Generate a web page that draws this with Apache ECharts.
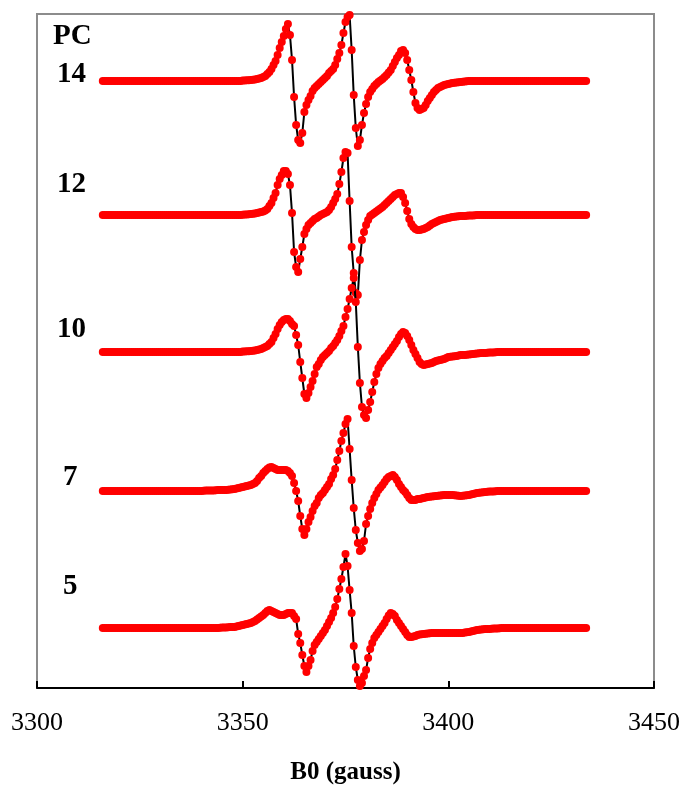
<!DOCTYPE html>
<html><head><meta charset="utf-8">
<script src="https://cdn.jsdelivr.net/npm/echarts/dist/echarts.min.js"></script>
<style>html,body{margin:0;padding:0;background:#fff}#c{width:684px;height:785px}</style>
</head><body><div id="c"></div>
<script>
// Magnetic field B0 (gauss) sampling positions (0.5 G sweep steps)
const fieldB = [
3316,3316.5,3317,3317.5,3318,3318.5,3319,3319.5,3320,3320.5,3321,3321.5,3322,3322.5,3323,3323.5,3324,3324.5,3325,3325.5,
3326,3326.5,3327,3327.5,3328,3328.5,3329,3329.5,3330,3330.5,3331,3331.5,3332,3332.5,3333,3333.5,3334,3334.5,3335,3335.5,
3336,3336.5,3337,3337.5,3338,3338.5,3339,3339.5,3340,3340.5,3341,3341.5,3342,3342.5,3343,3343.5,3344,3344.5,3345,3345.5,
3346,3346.5,3347,3347.5,3348,3348.5,3349,3349.5,3350,3350.5,3351,3351.5,3352,3352.5,3353,3353.5,3354,3354.5,3355,3355.5,
3356,3356.5,3357,3357.5,3358,3358.5,3359,3359.5,3360,3360.5,3361,3361.5,3362,3362.5,3363,3363.5,3364,3364.5,3365,3365.5,
3366,3366.5,3367,3367.5,3368,3368.5,3369,3369.5,3370,3370.5,3371,3371.5,3372,3372.5,3373,3373.5,3374,3374.5,3375,3375.5,
3376,3376.5,3377,3377.5,3378,3378.5,3379,3379.5,3380,3380.5,3381,3381.5,3382,3382.5,3383,3383.5,3384,3384.5,3385,3385.5,
3386,3386.5,3387,3387.5,3388,3388.5,3389,3389.5,3390,3390.5,3391,3391.5,3392,3392.5,3393,3393.5,3394,3394.5,3395,3395.5,
3396,3396.5,3397,3397.5,3398,3398.5,3399,3399.5,3400,3400.5,3401,3401.5,3402,3402.5,3403,3403.5,3404,3404.5,3405,3405.5,
3406,3406.5,3407,3407.5,3408,3408.5,3409,3409.5,3410,3410.5,3411,3411.5,3412,3412.5,3413,3413.5,3414,3414.5,3415,3415.5,
3416,3416.5,3417,3417.5,3418,3418.5,3419,3419.5,3420,3420.5,3421,3421.5,3422,3422.5,3423,3423.5,3424,3424.5,3425,3425.5,
3426,3426.5,3427,3427.5,3428,3428.5,3429,3429.5,3430,3430.5,3431,3431.5,3432,3432.5,3433,3433.5
];
// Trace labels (top to bottom) and vertical offsets of their baselines (a.u.)
const traceLabels = ['14','12','10','7','5'];
const traceOffsets = [607, 473, 336, 197, 60];
const xTicks = [3300, 3350, 3400, 3450];

// EPR signal (a.u., relative to baseline)
const pc14 = [
0,0,0,0,0,0,0,0,0,0, 0,0,0,0,0,0,0,0,0,0, 0,0,0,0,0,0,0,0,0,0, 0,0,0,0,0,0,0,0,0,0, 0,0,0,0,0,0,0,0,0,0, 0,0,0,0,0,0,0,0,0,0, 0,0,0,0,0,0,0,0,
0.5,0.6,0.7,0.8,1,1.2,1.5,2,2.5,3,4,5,7,9,12,16,
20,26,33,39,45,52,57,46, 21,-16,-44,-59,-62,-52,-31,-24, -19,-15,-10,-7,-5,-3,-1,1, 3,5,8,10,12,16,22,28,
36,48,59,64,66,31,-14,-47, -65,-59,-44,-32,-23,-16,-11,
-8,-5,-3,-1,0.5,2,4,6,8.5,
11,15,19,23,26,30,31,28,21,11,1,-11,-22,-27,-29,
-28,-27,-24,-20,-17,-14,-11,-9,-7,-6,-5,-4,-3.5,-3,-2.5,-2,-1.7,-1.5,-1.2,-1,-0.7,-0.5,-0.3,
0,0,0,0,0,0,0,0,0,0, 0,0,0,0,0,0,0,0,0,0, 0,0,0,0,0,0,0,0,0,0, 0,0,0,0,0,0,0,0,0,0, 0,0,0,0,0,0,0,0,0,0, 0,0,0,0,0,0,0,0
];
const pc12 = [
0,0,0,0,0,0,0,0,0,0, 0,0,0,0,0,0,0,0,0,0, 0,0,0,0,0,0,0,0,0,0, 0,0,0,0,0,0,0,0,0,0, 0,0,0,0,0,0,0,0,0,0, 0,0,0,0,0,0,0,0,0,0, 0,0,0,0,0,0,0,0,
0.3,0.4,0.5,0.7,1,1.2,1.5,2,2.5,3,3.5,4.5,6,9,12,17,
22,30,36,40,44,44,41,30, 2,-37,-52,-57,-44,-32,-19,-14, -10,-8,-6,-4,-3,-1.5,0,1, 2,3,5,8,12,16,21,31,
43,57,63,62,14,-32,-58,-78, -80,-45,-25,-17,-10,-5,-1,
0.5,2,3.5,5,6.5,8,10,12,14,
16,18,20,21,22,22,18,12,4,-4,-9,-12,-14,-15,-15,
-14.5,-14,-13,-12,-10.5,-9,-8,-7,-6,-5,-4.5,-4,-3.5,-3,-2.5,-2,-1.7,-1.5,-1.2,-1,-1,-1,-0.7,-0.5,-0.5,-0.5,-0.2,
0,0,0,0,0,0,0,0,0,0, 0,0,0,0,0,0,0,0,0,0, 0,0,0,0,0,0,0,0,0,0, 0,0,0,0,0,0,0,0,0,0, 0,0,0,0,0,0,0,0,0,0, 0,0,0,0
];
const pc10 = [
0,0,0,0,0,0,0,0,0,0, 0,0,0,0,0,0,0,0,0,0, 0,0,0,0,0,0,0,0,0,0, 0,0,0,0,0,0,0,0,0,0, 0,0,0,0,0,0,0,0,0,0, 0,0,0,0,0,0,0,0,0,0, 0,0,0,0,0,0,0,0,
0.5,0.6,0.7,0.8,1,1.2,1.5,2,2.5,3,4,5,6,8,10,14,
18,23,27,30,32,33,33,31, 28,26,17,7,-10,-26,-42,-46, -41,-35,-29,-22,-15,-12,-8,-5, -3,-1,1,4,6,9,12,16,
21,26,35,43,53,64,74,50, 5,-31,-55,-63,-66,-58,-50,
-40,-30,-22,-16,-12,-9,-6,-4,-1,
2,5,8,11,15,18,20,19,16,12,7,2,-2,-6,-10,
-12,-13,-12.5,-12,-11.5,-11,-10,-9,-8.5,-8,-7.5,-7,-6,-5,-4.8,-4.5,-4.2,-4,-3.5,-3,-3,-3,-2.8,-2.5,-2.2,-2,-1.8,-1.5,-1.2,-1,-1,-1,-0.8,-0.5,-0.5,-0.5,-0.3,0,
0,0,0,0,0,0,0,0,0,0, 0,0,0,0,0,0,0,0,0,0, 0,0,0,0,0,0,0,0,0,0, 0,0,0,0,0,0,0,0,0,0, 0,0,0
];
const pc7 = [
0,0,0,0,0,0,0,0,0,0, 0,0,0,0,0,0,0,0,0,0, 0,0,0,0,0,0,0,0,0,0, 0,0,0,0,0,0,0,0,0,0, 0,0,0,0,0,0,0,0,0,
0.3,0.5,0.5,0.5,0.5,0.5,0.7,1,1,1,1,1,1.2,1.5,1.7,2,2.5,3,3.5,4,4.5,5,5.5,6,7,8,10,13,15,18,20,22,23.5,24,23,
22,21,21,21,21,21,20,18, 15,8,0,-10,-25,-38,-44,-38, -31,-26,-20,-15,-12,-7,-4,-2, 1,4,7,12,16,22,31,40,
50,58,67,72,42,11,-17,-39, -52,-60,-58,-50,-33,-25,-18,
-12,-7,-3,1,3.5,6,9,12,14,
15,16,14,11,7,4,1,-1,-4,-7,-9,-9,-9,-8,-8,
-7.5,-7,-6.5,-6,-5.8,-5.5,-5.2,-5,-4.8,-4.5,-4.2,-4,-4,-4,-4,-4,-4.2,-4.5,-4.8,-5,-4.8,-4.5,-4.2,-4,-3.5,-3,-2.5,-2,-1.7,-1.5,-1.2,-1,-0.7,-0.5,-0.5,-0.5,-0.3,
0,0,0,0,0,0,0,0,0,0, 0,0,0,0,0,0,0,0,0,0, 0,0,0,0,0,0,0,0,0,0, 0,0,0,0,0,0,0,0,0,0, 0,0,0,0
];
const pc5 = [
0,0,0,0,0,0,0,0,0,0, 0,0,0,0,0,0,0,0,0,0, 0,0,0,0,0,0,0,0,0,0, 0,0,0,0,0,0,0,0,0,0, 0,0,0,0,0,0,0,0,0,0, 0,0,0,0,0,0,0,
0.3,0.5,0.5,0.5,0.7,1,1,1,1.5,2,2.5,3,3.5,4,4.5,5,6,7,8.5,10,11.5,13,15,17,18,17,16,
15,14,13,13,13,14,15,15, 15,12,9,-6,-15,-27,-38,-44, -38,-32,-23,-17,-14,-11,-8,-5, -2,2,6,10,15,21,29,39,
49,61,74,62,38,15,-18,-39, -52,-58,-55,-48,-42,-30,-21,
-15,-10,-7,-4,-1,2,5,9,12.5,
15,14,12,8,5,2,-1,-4,-7,-9,-9,-8.5,-8,-7,-6.5,
-6.2,-6,-5.8,-5.5,-5.2,-5,-5,-5,-5,-5,-5,-5,-5,-5,-5,-5,-5,-5,-5,-5,-5,
-4.5,-4.2,-4,-3.5,-3,-2.5,-2,-1.7,-1.5,-1.2,-1,-1,-1,-0.7,-0.5,-0.5,-0.5,-0.2,
0,0,0,0,0,0,0,0,0,0, 0,0,0,0,0,0,0,0,0,0, 0,0,0,0,0,0,0,0,0,0, 0,0,0,0,0,0,0,0,0,0, 0,0
];
const traces = [pc14, pc12, pc10, pc7, pc5];
traces.forEach((t, k) => { if (t.length !== fieldB.length) console.error('length mismatch trace ' + traceLabels[k] + ': ' + t.length + ' vs ' + fieldB.length); });

const chart = echarts.init(document.getElementById('c'), null, {renderer: 'canvas'});
const serif = '"Liberation Serif", "Times New Roman", serif';

const series = traces.map((t, k) => ({
  type: 'line',
  name: 'PC ' + traceLabels[k],
  data: fieldB.map((b, i) => [b, traceOffsets[k] + t[i]]),
  symbol: 'circle',
  symbolSize: 8,
  showSymbol: true,
  showAllSymbol: true,
  clip: false,
  itemStyle: {color: '#ff0000', borderWidth: 0},
  lineStyle: {color: '#000000', width: 2},
  z: 2 + k
}));

const labelY = [75, 185, 330, 478, 587];
const labelX = [57, 57, 57, 63, 63];
const graphics = [{type: 'text', x: 53, y: 37, style: {text: 'PC', font: 'bold 29px ' + serif, fill: '#000', textAlign: 'left', verticalAlign: 'middle', textVerticalAlign: 'middle'}}]
  .concat(traceLabels.map((s, k) => ({type: 'text', x: labelX[k], y: labelY[k],
    style: {text: s, font: 'bold 29px ' + serif, fill: '#000', textAlign: 'left', verticalAlign: 'middle', textVerticalAlign: 'middle'}})));

chart.setOption({
  animation: false,
  backgroundColor: '#ffffff',
  grid: {left: 37, right: 30, top: 14, bottom: 97, containLabel: false, outerBoundsMode: 'none',
         show: true, borderColor: '#8c8c8c', borderWidth: 2, backgroundColor: 'transparent'},
  xAxis: {
    type: 'value', min: xTicks[0], max: xTicks[xTicks.length - 1], interval: 50,
    name: 'B0 (gauss)', nameLocation: 'middle', nameGap: 72,
    nameTextStyle: {fontFamily: serif, fontWeight: 'bold', fontSize: 25, color: '#000'},
    axisLine: {show: true, lineStyle: {color: '#000', width: 2}},
    axisTick: {show: true, inside: true, length: 7, lineStyle: {color: '#000', width: 2}},
    axisLabel: {fontFamily: serif, fontSize: 26, color: '#000', margin: 22, formatter: v => String(v)},
    splitLine: {show: false}
  },
  yAxis: {type: 'value', min: 0, max: 674, show: false, splitLine: {show: false}},
  series: series,
  graphic: graphics
});
</script>
</body></html>
